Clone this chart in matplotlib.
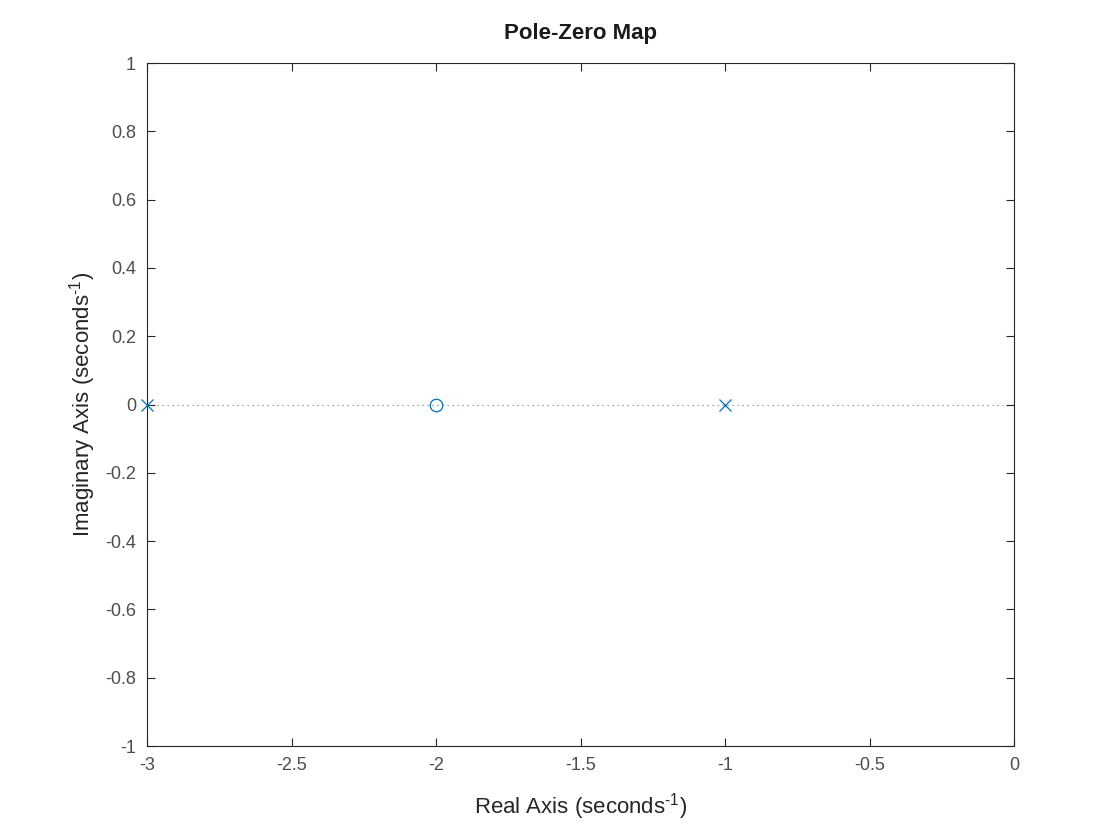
import matplotlib
matplotlib.use("Agg")
import matplotlib.pyplot as plt

plt.rcParams['font.family'] = ['Liberation Sans', 'DejaVu Sans']
plt.rcParams['mathtext.fontset'] = 'custom'
plt.rcParams['mathtext.rm'] = 'Liberation Sans'

poles_re = [-3, -1]
poles_im = [0, 0]
zeros_re = [-2]
zeros_im = [0]
xticks = [-3, -2.5, -2, -1.5, -1, -0.5, 0]
yticks = [-1, -0.8, -0.6, -0.4, -0.2, 0, 0.2, 0.4, 0.6, 0.8, 1]

blue = '#0072BD'
axc = '#262626'
txtc = '#4d4d4d'

fig = plt.figure(figsize=(11.2, 8.4), dpi=100)
ax = fig.add_axes([0.1313, 0.1119, 0.7741, 0.8131])

ax.axhline(0, color='#8c8c8c', linestyle=(0, (1, 3)), linewidth=0.9, zorder=1)
ax.plot(poles_re, poles_im, linestyle='none', marker='x', markersize=8,
        markeredgewidth=0.9, color=blue, clip_on=False, zorder=3)
ax.plot(zeros_re, zeros_im, linestyle='none', marker='o', markersize=9,
        markerfacecolor='none', markeredgewidth=0.9, color=blue, zorder=3)

ax.set_xlim(-3, 0)
ax.set_ylim(-1, 1)
ax.set_xticks(xticks)
ax.set_xticklabels([f'{v:g}' for v in xticks])
ax.set_yticks(yticks)
ax.set_yticklabels([f'{v:g}' for v in yticks])

ax.tick_params(direction='in', top=True, right=True, length=6, width=0.8,
               colors=axc, labelcolor=txtc, labelsize=13, pad=8)
for s in ax.spines.values():
    s.set_color(axc)
    s.set_linewidth(0.8)

ax.set_title('Pole-Zero Map', fontsize=16, fontweight='bold', color='#1a1a1a', pad=17)
ax.set_xlabel(r'Real Axis (seconds$^{\text{-1}}$)', fontsize=16, color='#262626', labelpad=12)
ax.set_ylabel(r'Imaginary Axis (seconds$^{\text{-1}}$)', fontsize=16, color='#262626', labelpad=5)

fig.savefig('out.png', dpi=100, facecolor='white')
